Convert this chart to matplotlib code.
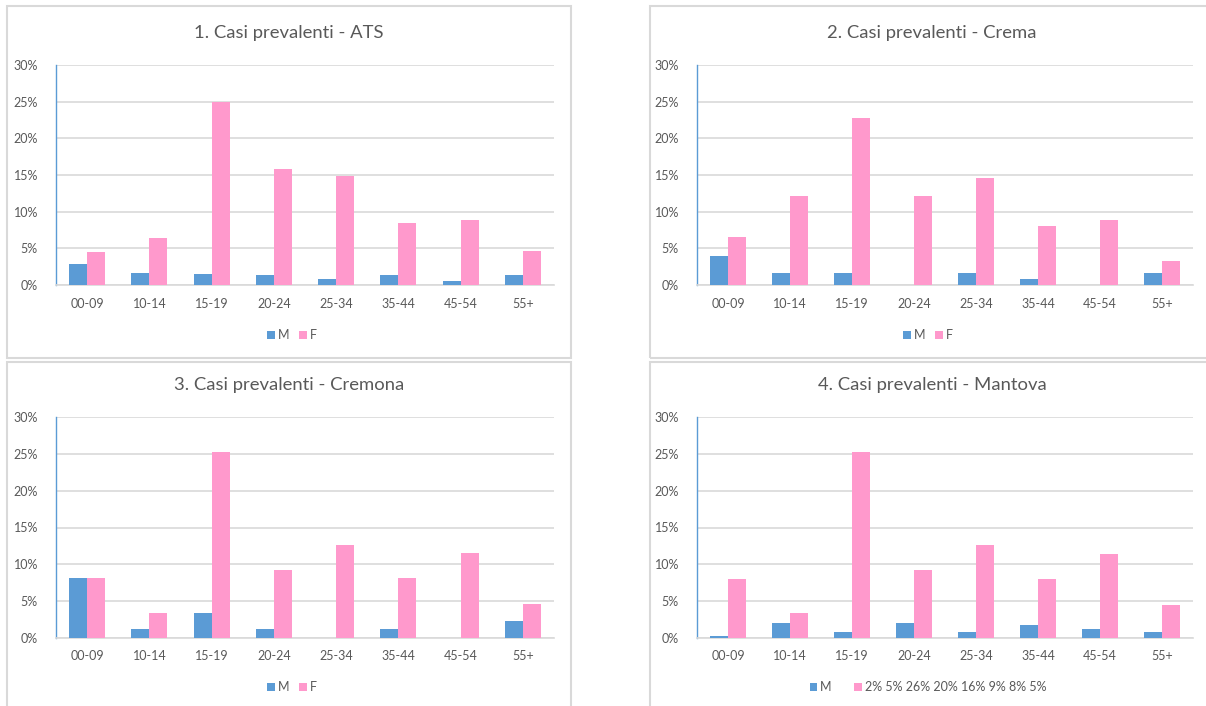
import matplotlib
matplotlib.use("Agg")
import matplotlib.pyplot as plt
from matplotlib.patches import Rectangle, Patch
import numpy as np

plt.rcParams['font.family'] = ['Lato', 'DejaVu Sans']

# Age classes and percentages of prevalent cases by sex
age_classes = ["00-09", "10-14", "15-19", "20-24", "25-34", "35-44", "45-54", "55+"]

ats_m = [2.8, 1.7, 1.5, 1.3, 0.8, 1.3, 0.6, 1.3]
ats_f = [4.5, 6.4, 25.0, 15.8, 14.8, 8.4, 8.8, 4.6]

crema_m = [4.0, 1.6, 1.6, 0.0, 1.6, 0.8, 0.0, 1.6]
crema_f = [6.5, 12.2, 22.8, 12.2, 14.6, 8.1, 8.9, 3.3]

cremona_m = [8.1, 1.2, 3.4, 1.2, 0.0, 1.2, 0.0, 2.3]
cremona_f = [8.1, 3.4, 25.3, 9.2, 12.6, 8.1, 11.5, 4.6]

mantova_m = [0.3, 2.1, 0.8, 2.1, 0.8, 1.7, 1.2, 0.8]
mantova_f = [8.0, 3.4, 25.3, 9.2, 12.6, 8.0, 11.4, 4.5]

titles = ["1. Casi prevalenti - ATS", "2. Casi prevalenti - Crema",
          "3. Casi prevalenti - Cremona", "4. Casi prevalenti - Mantova"]
m_names = ["M", "M", "M", "M"]
f_names = ["F", "F", "F", "2% 5% 26% 20% 16% 9% 8% 5%"]
y_ticks = [0, 5, 10, 15, 20, 25, 30]

series = [(ats_m, ats_f), (crema_m, crema_f), (cremona_m, cremona_f), (mantova_m, mantova_f)]

W, H = 1206, 706
BLUE = "#5B9BD5"
PINK = "#FF99CC"
GRID = "#D9D9D9"
TXT = "#595959"
BORDER = "#D9D9D9"

fig = plt.figure(figsize=(W / 100, H / 100), dpi=100)
fig.patch.set_facecolor("white")


def fx(px):
    return px / W


def fy(py):
    return 1 - py / H


# chart frames (left, top, right, bottom) in pixels
frames = [(7, 6, 571, 358), (650, 6, 1220, 358), (7, 362, 571, 720), (650, 362, 1220, 720)]
# plot areas (left, top, right, bottom) in pixels
plots = [(56, 65, 554, 285), (697, 65, 1193, 285), (56, 417, 554, 638), (697, 417, 1193, 638)]
title_y = [33, 33, 385, 385]
legend_y = [335, 335, 687, 687]

for i in range(4):
    l, t, r, b = frames[i]
    fig.patches.append(Rectangle((fx(l), fy(b)), fx(r - l), (b - t) / H,
                                 transform=fig.transFigure, fill=False,
                                 edgecolor=BORDER, linewidth=1.5, zorder=0))

    pl, pt, pr, pb = plots[i]
    ax = fig.add_axes([fx(pl), fy(pb), fx(pr - pl), (pb - pt) / H])
    ms, fs = series[i]
    x = np.arange(len(age_classes))
    w = 0.29
    ax.bar(x - w / 2, ms, width=w, color=BLUE, label=m_names[i], zorder=3)
    ax.bar(x + w / 2, fs, width=w, color=PINK, label=f_names[i], zorder=3)

    ax.set_xlim(-0.5, len(age_classes) - 0.5)
    ax.set_ylim(0, 30)
    ax.set_yticks(y_ticks)
    ax.set_yticklabels([f"{v}%" for v in y_ticks])
    ax.set_xticks(x)
    ax.set_xticklabels(age_classes)
    ax.tick_params(axis="both", length=0, labelsize=9, colors=TXT)
    ax.tick_params(axis="x", pad=9)
    ax.tick_params(axis="y", pad=13)
    ax.yaxis.grid(True, color=GRID, linewidth=1.2, zorder=0)
    ax.set_axisbelow(True)
    for s in ["top", "right"]:
        ax.spines[s].set_visible(False)
    ax.spines["left"].set_color(BLUE)
    ax.spines["left"].set_linewidth(1.0)
    ax.spines["bottom"].set_color(GRID)
    ax.spines["bottom"].set_linewidth(1.2)

    cx = (l + r) / 2 if i in (0, 2) else 932
    fig.text(fx(cx), fy(title_y[i]), titles[i], ha="center", va="center",
             fontsize=13.3, color=TXT)

    handles = [Patch(facecolor=BLUE), Patch(facecolor=PINK)]
    lcx = (pl + pr) / 2 - 13 if i in (0, 2) else 928
    fig.legend(handles, [m_names[i], f_names[i]], loc="center",
               bbox_to_anchor=(fx(lcx), fy(legend_y[i])), ncol=2, frameon=False,
               fontsize=9, labelcolor=TXT, handlelength=0.6, handleheight=0.6,
               handletextpad=0.25, columnspacing=0.8 if i < 3 else 1.8)

fig.savefig("out.png", dpi=100)
